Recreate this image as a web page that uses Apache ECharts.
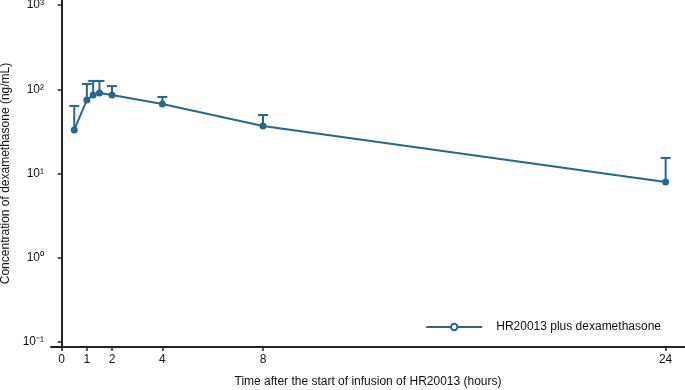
<!DOCTYPE html>
<html>
<head>
<meta charset="utf-8">
<script src="https://cdn.jsdelivr.net/npm/echarts@6/dist/echarts.min.js"></script>
<style>html,body{margin:0;padding:0;background:#fff}#c{width:685px;height:390px}</style>
</head>
<body>
<div id="c"></div>
<script>
var times = [0.5, 1, 1.25, 1.5, 2, 4, 8, 24];
var meanConc = [32.9, 74.6, 85.6, 90.4, 85.6, 66.9, 36.7, 7.94];
var upperConc = [63.4, 115.6, 125.5, 125.5, 109, 81, 49.5, 15.3];
var xTicks = [0, 1, 2, 4, 8, 24];
var yTicks = [0.1, 1, 10, 100, 1000];
var yTickLabels = ['10\u207B\u00B9', '10\u2070', '10\u00B9', '10\u00B2', '10\u00B3'];
var seriesName = 'HR20013 plus dexamethasone';

var color = '#2d6589';
var axisColor = '#222';
var font = 'Liberation Sans, Arial, sans-serif';

var lineData = times.map(function (t, i) { return [t, meanConc[i]]; });
var errData = times.map(function (t, i) { return [t, meanConc[i], upperConc[i]]; });

var chart = echarts.init(document.getElementById('c'), null, {renderer: 'canvas'});
chart.setOption({
  animation: false,
  backgroundColor: '#fff',
  grid: {left: 51, right: 0, top: 0, bottom: 43, containLabel: false, outerBoundsMode: 'none'},
  xAxis: {
    type: 'value', min: -0.425, max: 24.77,
    name: 'Time after the start of infusion of HR20013 (hours)',
    nameLocation: 'middle', nameGap: 29,
    nameTextStyle: {fontFamily: font, fontSize: 12, color: '#111'},
    axisLine: {show: true, onZero: false, lineStyle: {color: axisColor, width: 2}},
    axisTick: {show: true, length: 4, lineStyle: {color: axisColor, width: 1.5}, customValues: xTicks},
    axisLabel: {fontFamily: font, fontSize: 12, color: '#111', margin: 7, customValues: xTicks},
    splitLine: {show: false}
  },
  yAxis: {
    type: 'log', logBase: 10, min: 0.08724, max: 1146.5,
    name: 'Concentration of dexamethasone (ng/mL)',
    nameLocation: 'middle', nameGap: 35, nameRotate: 90,
    nameTextStyle: {fontFamily: font, fontSize: 12, color: '#111'},
    axisLine: {show: true, lineStyle: {color: axisColor, width: 2}},
    axisTick: {show: true, length: 4, lineStyle: {color: axisColor, width: 1.5}, customValues: yTicks},
    axisLabel: {
      fontFamily: font, fontSize: 12, color: '#111', margin: 7, customValues: yTicks,
      formatter: function (v) {
        for (var i = 0; i < yTicks.length; i++) {
          if (Math.abs(Math.log10(v) - Math.log10(yTicks[i])) < 1e-6) return yTickLabels[i];
        }
        return '';
      }
    },
    splitLine: {show: false}
  },
  legend: {
    show: true, right: 19, top: 316,
    itemWidth: 56, itemHeight: 8, itemGap: 10,
    textStyle: {fontFamily: font, fontSize: 12, color: '#111', padding: [0, 0, 0, 9]},
    itemStyle: {color: '#fff', borderColor: color, borderWidth: 2},
    data: [seriesName]
  },
  series: [
    {
      name: seriesName, type: 'line', data: lineData,
      symbol: 'circle', symbolSize: 7, showSymbol: true,
      lineStyle: {color: color, width: 2},
      itemStyle: {color: color},
      z: 3
    },
    {
      name: 'err', type: 'custom', data: errData,
      renderItem: function (params, api) {
        var x = api.value(0);
        var p0 = api.coord([x, api.value(1)]);
        var p1 = api.coord([x, api.value(2)]);
        var hw = 5;
        return {
          type: 'group',
          children: [
            {type: 'line', shape: {x1: p0[0], y1: p0[1], x2: p1[0], y2: p1[1]}, style: {stroke: color, lineWidth: 2}},
            {type: 'line', shape: {x1: p1[0] - hw, y1: p1[1], x2: p1[0] + hw, y2: p1[1]}, style: {stroke: color, lineWidth: 2}}
          ]
        };
      },
      z: 2
    }
  ]
});
</script>
</body>
</html>
